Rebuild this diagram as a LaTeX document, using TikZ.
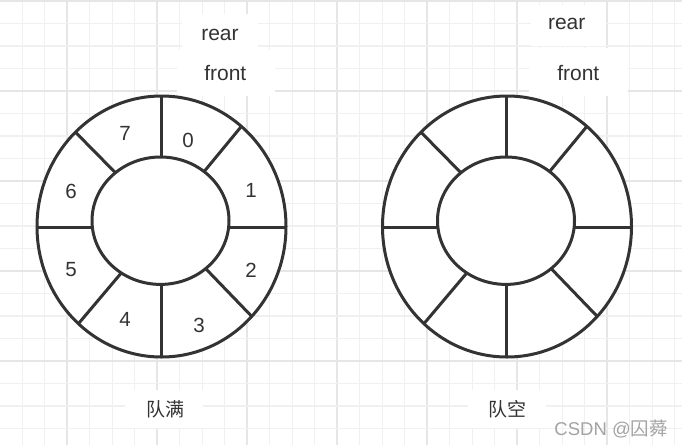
\documentclass[tikz,border=0pt]{standalone}
\usepackage{fontspec}
\setmainfont{Liberation Sans}
\newfontfamily\cjk{Noto Sans CJK SC}
\usetikzlibrary{calc}
\definecolor{ink}{HTML}{333333}
\definecolor{gridminor}{HTML}{F0F0F0}
\definecolor{gridmajor}{HTML}{E6E6E6}
\definecolor{wmark}{HTML}{A3A3A3}
\begin{document}
\begin{tikzpicture}[x=1pt,y=-1pt,
  ringline/.style={draw=ink,line width=3pt},
  digit/.style={text=ink,font=\fontsize{20.5}{24}\selectfont,inner sep=0pt},
  ptr/.style={text=ink,font=\fontsize{21}{25}\selectfont,inner sep=0pt},
  capt/.style={text=ink,font=\cjk\fontsize{19}{23}\selectfont,inner sep=0pt},
  cover/.style={fill=white,draw=none}]
\useasboundingbox (0,0) rectangle (682,445);
\fill[white] (0,0) rectangle (682,445);
% grid
\foreach \k in {0,...,29} {
  \pgfmathsetmacro\xx{22.2+22.5*\k}
  \pgfmathtruncatemacro\m{mod(\k+2,4)}
  \ifnum\m=0 \draw[gridmajor,line width=1.5pt] (\xx,0) -- (\xx,445);
  \else \draw[gridminor,line width=1.2pt] (\xx,0) -- (\xx,445); \fi
}
\foreach \k in {0,...,19} {
  \pgfmathsetmacro\yy{1+22.5*\k}
  \pgfmathtruncatemacro\m{mod(\k,4)}
  \ifnum\m=0 \draw[gridmajor,line width=1.5pt] (0,\yy) -- (682,\yy);
  \else \draw[gridminor,line width=1.2pt] (0,\yy) -- (682,\yy); \fi
}
% label backgrounds
\fill[cover] (182,14) rectangle (258,50);
\fill[cover] (177,50) rectangle (275,96);
\fill[cover] (531,5) rectangle (606,46);
\fill[cover] (529,48) rectangle (628,96);
\fill[cover] (125,390) rectangle (203,428);
\fill[cover] (468,390) rectangle (546,428);
% rings
\foreach \sx in {0,345.5} {
\begin{scope}[xshift=\sx pt]
  \fill[white] (161.5,226.5) ellipse [x radius=124.5, y radius=130.5];
  \begin{scope}
    \clip (161.5,226.5) ellipse [x radius=124.5, y radius=130.5];
    \draw[ringline] ($(161,157)!-0.5!(161,96)$) -- ($(161,157)!1.5!(161,96)$);
    \draw[ringline] ($(204,171.7)!-0.5!(241.7,126)$) -- ($(204,171.7)!1.5!(241.7,126)$);
    \draw[ringline] ($(229,227)!-0.5!(286,227)$) -- ($(229,227)!1.5!(286,227)$);
    \draw[ringline] ($(207.3,270.3)!-0.5!(252.3,317)$) -- ($(207.3,270.3)!1.5!(252.3,317)$);
    \draw[ringline] ($(161,284)!-0.5!(161,357)$) -- ($(161,284)!1.5!(161,357)$);
    \draw[ringline] ($(119.3,275.3)!-0.5!(79,323)$) -- ($(119.3,275.3)!1.5!(79,323)$);
    \draw[ringline] ($(92,227)!-0.5!(37,227)$) -- ($(92,227)!1.5!(37,227)$);
    \draw[ringline] ($(115,172.3)!-0.5!(74,130.7)$) -- ($(115,172.3)!1.5!(74,130.7)$);
  \end{scope}
  \draw[ringline] (161.5,226.5) ellipse [x radius=124.5, y radius=130.5];
  \draw[ringline,fill=white] (160.5,220.7) ellipse [x radius=68.5, y radius=63.7];
\end{scope}
}
% slot numbers
\node[digit] (d0) at (188,140) {0};
\node[digit] (d1) at (251,190) {1};
\node[digit] (d2) at (251,270) {2};
\node[digit] (d3) at (199,325) {3};
\node[digit] (d4) at (125,319) {4};
\node[digit] (d5) at (71,270) {5};
\node[digit] (d6) at (71,191) {6};
\node[digit] (d7) at (125,133) {7};
% pointers
\node[ptr] (rearL) at (220,35) {rear};
\node[ptr] (frontL) at (225.3,73) {front};
\node[ptr] (rearR) at (566.7,24) {rear};
\node[ptr] (frontR) at (578.3,73) {front};
% captions
\node[capt] (full) at (165,409) {队满};
\node[capt] (empty) at (507,409) {队空};
% watermark
\node[text=wmark,font=\fontsize{18.5}{22}\selectfont,inner sep=0pt,anchor=east] (wm) at (668,429) {CSDN @{\cjk 囚蕣}};
\end{tikzpicture}
\end{document}
